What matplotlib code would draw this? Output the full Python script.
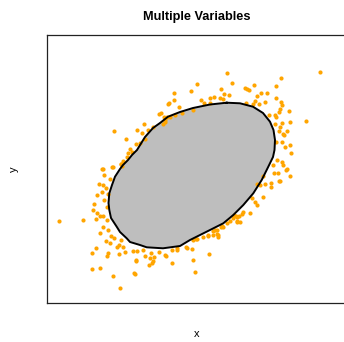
import matplotlib
matplotlib.use("Agg")
import matplotlib.pyplot as plt

plt.rcParams['font.family'] = ['Liberation Sans', 'DejaVu Sans']

title = "Multiple Variables"
xlabel = "x"
ylabel = "y"

# Outlying points (orange) (plot units)
out_x = [168,159,144,114,137,142,148,126,145,136,130,132,128,127,123,121,113,103,165,167,153,140,122,
         227,232,197,221,191,174,174,169,179,229,224,214,210,201,204,220,223,210,247,246,193,182,175,170,164,165,161,163,
         320,281,276,254,245,249,261,267,257,276,281,282,280,265,259,255,253,289,279,275,269,276,290,306,282,275,280,287,279,283,284,276,282,290,285,
         291,277,282,273,283,287,274,278,290,263,280,271,271,265,260,257,263,252,255,257,250,243,242,239,237,240,237,234,
         102,112,121,104,110,99,103,106,102,97,108,104,94,107,93,97,100,103,107,96,59,83,103,108,100,111,106,114,110,121,119,117,123,96,92,108,107,119,125,133,137,92,100,113,135,120,136,
         143,145,151,150,153,154,152,149,136,134,159,165,166,172,172,177,177,186,187,192,193,195,209,197,203,208,213,217,218,215,222,227,230,233,236,237,
         223,221,217,213,218,208,196,193,286,279]
out_y = [104,114,124,131,130,133,130,139,139,144,149,152,153,157,161,164,167,169,120,117,127,143,166,
         73,83,84,89,91,93,100,103,107,95,94,97,98,100,103,98,99,103,89,103,110,113,115,117,117,122,113,124,
         72,78,86,85,88,90,93,93,96,98,102,105,109,102,104,101,104,111,112,115,115,117,122,121,123,124,127,131,131,134,135,142,142,145,147,
         153,160,162,165,165,169,173,173,176,176,181,183,187,184,185,184,197,198,202,205,213,212,214,216,217,222,222,215,
         169,167,164,175,179,184,185,188,192,195,194,200,204,207,210,213,216,216,220,219,221,220,227,230,233,236,241,238,243,240,245,247,247,248,253,253,256,254,252,251,251,269,268,276,274,288,260,
         250,256,253,258,261,257,263,265,261,273,252,255,256,263,250,250,248,247,248,249,260,272,254,239,237,236,235,234,237,230,226,223,221,218,216,221,
         227,227,230,231,235,235,239,240,170,181]

# Boundary of the dense grey core / contour line (plot units)
core_x = [226.7,240,253,263,270,273.5,275,274.5,273,268.3,261.7,253.3,243.3,233.3,223.3,210,200,190,180,163,146.7,140,130,126.7,120,116.7,111,109.3,108.5,109.3,112,115,120,123,128,132,137,145,153,160,168,180,193,210,226.7]
core_y = [102.7,103.3,106.7,113,121.7,130,140,150,157,166.7,180,193.3,205,215,223.3,230,235,240,246,248.3,247.3,245,242,238.3,232,226.7,218,210,203,193.3,185,176.7,169,165,160,155,150,137,128,123,116.7,112,108,104.5,102.7]

fig = plt.figure(figsize=(3.44, 3.42), dpi=100)
ax = fig.add_axes([47/344, 1 - 303/342, 300/344, (303 - 35)/342])

ax.fill(core_x, core_y, color='#bebebe', zorder=1, lw=0)
ax.scatter(out_x, out_y, s=9, color='#ffa500', linewidths=0, zorder=2)
ax.plot(core_x, core_y, color='black', lw=1.4, zorder=3, solid_joinstyle='round')

ax.set_xlim(47, 347)
ax.set_ylim(303, 35)
ax.set_xticks([])
ax.set_yticks([])
for s in ax.spines.values():
    s.set_color('#222222')
    s.set_linewidth(0.9)

ax.set_title(title, fontsize=9.2, fontweight='bold', pad=11)
ax.set_xlabel(xlabel, fontsize=8, labelpad=19)
ax.set_ylabel(ylabel, fontsize=8, labelpad=20)

fig.savefig("out.png", dpi=100)
